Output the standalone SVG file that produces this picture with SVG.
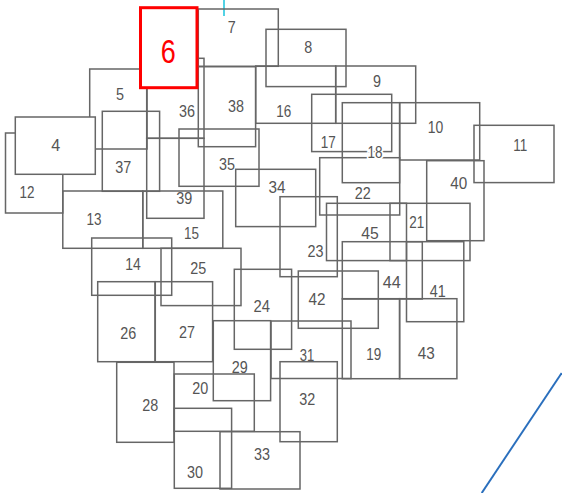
<svg xmlns="http://www.w3.org/2000/svg" width="562" height="493" viewBox="0 0 562 493">
<style>
.box{fill:none;stroke:#666;stroke-width:1.5}
.solid{fill:#fff}
.lbl{font-family:"Liberation Sans",Arial,sans-serif;font-size:16.5px;fill:#555;text-anchor:middle}
.halo{stroke:#fff;stroke-width:4;paint-order:stroke}
.sel{fill:#fff;stroke:#f00;stroke-width:3}
.sellbl{font-family:"Liberation Sans",Arial,sans-serif;font-size:33px;fill:#f00;text-anchor:middle}
</style>
<rect width="562" height="493" fill="#fff"/>
<g id="connectors">
<line x1="224" y1="0" x2="224" y2="16" stroke="#19c3dc" stroke-width="1.5"/>
<line x1="481.7" y1="493" x2="561.7" y2="373" stroke="#2a6fbd" stroke-width="2"/>
</g>
<g id="nodes">
<g id="n5"><rect class="box" x="89.7" y="69" width="57.3" height="80"/><text class="lbl" x="120" y="100" textLength="8" lengthAdjust="spacingAndGlyphs">5</text></g>
<g id="n12"><rect class="box" x="5.5" y="133" width="57.3" height="80"/><text class="lbl" x="27" y="198" textLength="15" lengthAdjust="spacingAndGlyphs">12</text></g>
<g id="n7"><rect class="box" x="198.3" y="9" width="80" height="57.3"/><text class="lbl" x="231.7" y="32.7" textLength="8" lengthAdjust="spacingAndGlyphs">7</text></g>
<g id="n8"><rect class="box" x="266" y="29.3" width="80" height="57.3"/><text class="lbl" x="308.3" y="52.7" textLength="8" lengthAdjust="spacingAndGlyphs">8</text></g>
<g id="n9"><rect class="box" x="335.7" y="66" width="80" height="57.3"/><text class="lbl" x="377" y="87.3" textLength="8" lengthAdjust="spacingAndGlyphs">9</text></g>
<g id="n10"><rect class="box" x="399.7" y="102.7" width="80" height="57.3"/><text class="lbl" x="435.5" y="133.2" textLength="15.5" lengthAdjust="spacingAndGlyphs">10</text></g>
<g id="n11"><rect class="box" x="474" y="125.3" width="80" height="57.3"/><text class="lbl" x="520.3" y="151" textLength="14" lengthAdjust="spacingAndGlyphs">11</text></g>
<g id="n13"><rect class="box" x="62.8" y="191" width="80" height="57.3"/><text class="lbl" x="94" y="224.8" textLength="15" lengthAdjust="spacingAndGlyphs">13</text></g>
<g id="n14"><rect class="box" x="91.7" y="238" width="80" height="57.3"/><text class="lbl" x="133" y="269.5" textLength="15.5" lengthAdjust="spacingAndGlyphs">14</text></g>
<g id="n15"><rect class="box" x="142.8" y="191" width="80" height="57.3"/><text class="lbl" x="191.5" y="239" textLength="15" lengthAdjust="spacingAndGlyphs">15</text></g>
<g id="n16"><rect class="box" x="255.7" y="66" width="80" height="57.3"/><text class="lbl" x="283.7" y="117.2" textLength="15" lengthAdjust="spacingAndGlyphs">16</text></g>
<g id="n17"><rect class="box" x="311.7" y="94.3" width="80" height="57.3"/><text class="lbl" x="328.3" y="148.2" textLength="15" lengthAdjust="spacingAndGlyphs">17</text></g>
<g id="n19"><rect class="box" x="342.3" y="298.7" width="57.3" height="80"/><text class="lbl" x="373.7" y="360.2" textLength="15" lengthAdjust="spacingAndGlyphs">19</text></g>
<g id="n20"><rect class="box" x="174.3" y="374" width="80" height="57.3"/><text class="lbl" x="200.3" y="394.3" textLength="16" lengthAdjust="spacingAndGlyphs">20</text></g>
<g id="n21"><rect class="box" x="390" y="203.3" width="80" height="57.3"/><text class="lbl" x="416.7" y="227.5" textLength="15" lengthAdjust="spacingAndGlyphs">21</text></g>
<g id="n22"><rect class="box" x="319.7" y="157.7" width="80" height="57.3"/><text class="lbl" x="362.7" y="199.2" textLength="16" lengthAdjust="spacingAndGlyphs">22</text></g>
<g id="n18"><rect class="box" x="342.3" y="102.7" width="57.3" height="80"/><text class="lbl halo" x="375" y="157.5" textLength="15" lengthAdjust="spacingAndGlyphs">18</text></g>
<g id="n23"><rect class="box" x="280" y="196.7" width="57.3" height="80"/><text class="lbl" x="315.5" y="257.2" textLength="16" lengthAdjust="spacingAndGlyphs">23</text></g>
<g id="n24"><rect class="box" x="234.3" y="269.3" width="57.3" height="80"/><text class="lbl" x="261.7" y="312.2" textLength="16.5" lengthAdjust="spacingAndGlyphs">24</text></g>
<g id="n25"><rect class="box" x="161" y="248.3" width="80" height="57.3"/><text class="lbl" x="198.3" y="274.3" textLength="16" lengthAdjust="spacingAndGlyphs">25</text></g>
<g id="n26"><rect class="box" x="97.7" y="281.7" width="57.3" height="80"/><text class="lbl" x="128.3" y="338.8" textLength="16" lengthAdjust="spacingAndGlyphs">26</text></g>
<g id="n27"><rect class="box" x="155.3" y="281.7" width="57.3" height="80"/><text class="lbl" x="187" y="338" textLength="16" lengthAdjust="spacingAndGlyphs">27</text></g>
<g id="n28"><rect class="box" x="116.7" y="362.3" width="57.3" height="80"/><text class="lbl" x="150.3" y="410.5" textLength="16" lengthAdjust="spacingAndGlyphs">28</text></g>
<g id="n29"><rect class="box" x="213.3" y="320.7" width="57.3" height="80"/><text class="lbl" x="239.7" y="373.2" textLength="16" lengthAdjust="spacingAndGlyphs">29</text></g>
<g id="n30"><rect class="box" x="174.3" y="408.3" width="57.3" height="80"/><text class="lbl" x="195" y="478" textLength="16" lengthAdjust="spacingAndGlyphs">30</text></g>
<g id="n31"><rect class="box" x="271" y="321" width="80" height="57.5"/><text class="lbl" x="307" y="361.3" textLength="14.5" lengthAdjust="spacingAndGlyphs">31</text></g>
<g id="n32"><rect class="box" x="280" y="361.7" width="57.3" height="80"/><text class="lbl" x="307.3" y="405" textLength="16" lengthAdjust="spacingAndGlyphs">32</text></g>
<g id="n33"><rect class="box" x="220" y="431.7" width="80" height="57.3"/><text class="lbl" x="262" y="459.8" textLength="16" lengthAdjust="spacingAndGlyphs">33</text></g>
<g id="n34"><rect class="box" x="235.7" y="169.3" width="80" height="57.3"/><text class="lbl" x="277" y="193" textLength="17" lengthAdjust="spacingAndGlyphs">34</text></g>
<g id="n35"><rect class="box" x="179" y="129" width="80" height="57.3"/><text class="lbl" x="227" y="170" textLength="16" lengthAdjust="spacingAndGlyphs">35</text></g>
<g id="n36"><rect class="box" x="146.7" y="58.3" width="57.3" height="80"/><text class="lbl" x="187" y="117" textLength="16" lengthAdjust="spacingAndGlyphs">36</text></g>
<g id="n37"><rect class="box" x="102.3" y="111.3" width="57.3" height="80"/><text class="lbl" x="123.3" y="173.2" textLength="16" lengthAdjust="spacingAndGlyphs">37</text></g>
<g id="n38"><rect class="box" x="198.3" y="66.7" width="57.3" height="80"/><text class="lbl" x="236" y="112.3" textLength="16" lengthAdjust="spacingAndGlyphs">38</text></g>
<g id="n39"><rect class="box" x="146.7" y="138.3" width="57.3" height="80"/><text class="lbl" x="184.3" y="204.3" textLength="16" lengthAdjust="spacingAndGlyphs">39</text></g>
<g id="n40"><rect class="box" x="426.7" y="160.7" width="57.3" height="80"/><text class="lbl" x="458.8" y="189" textLength="17" lengthAdjust="spacingAndGlyphs">40</text></g>
<g id="n41"><rect class="box" x="406.5" y="241.7" width="57.3" height="80"/><text class="lbl" x="437.7" y="296.8" textLength="16" lengthAdjust="spacingAndGlyphs">41</text></g>
<g id="n42"><rect class="box" x="298.3" y="271" width="80" height="57.3"/><text class="lbl" x="317" y="305.2" textLength="17" lengthAdjust="spacingAndGlyphs">42</text></g>
<g id="n43"><rect class="box" x="399.6" y="298.7" width="57.3" height="80"/><text class="lbl" x="426.2" y="359.3" textLength="17" lengthAdjust="spacingAndGlyphs">43</text></g>
<g id="n44"><rect class="box" x="342.3" y="241.7" width="80" height="57.3"/><text class="lbl" x="391.7" y="287.7" textLength="18" lengthAdjust="spacingAndGlyphs">44</text></g>
<g id="n45"><rect class="box" x="326.5" y="203.3" width="80" height="57.3"/><text class="lbl" x="370" y="238.7" textLength="17.5" lengthAdjust="spacingAndGlyphs">45</text></g>
<g id="n4"><rect class="box solid" x="15.3" y="117" width="80" height="57.3"/><text class="lbl" x="55.8" y="150.5" textLength="9" lengthAdjust="spacingAndGlyphs">4</text></g>
<g id="n6"><rect class="sel" x="140.5" y="7.7" width="56.5" height="80"/><text class="sellbl" x="168.3" y="62.5" textLength="15" lengthAdjust="spacingAndGlyphs">6</text></g>
</g>
</svg>
